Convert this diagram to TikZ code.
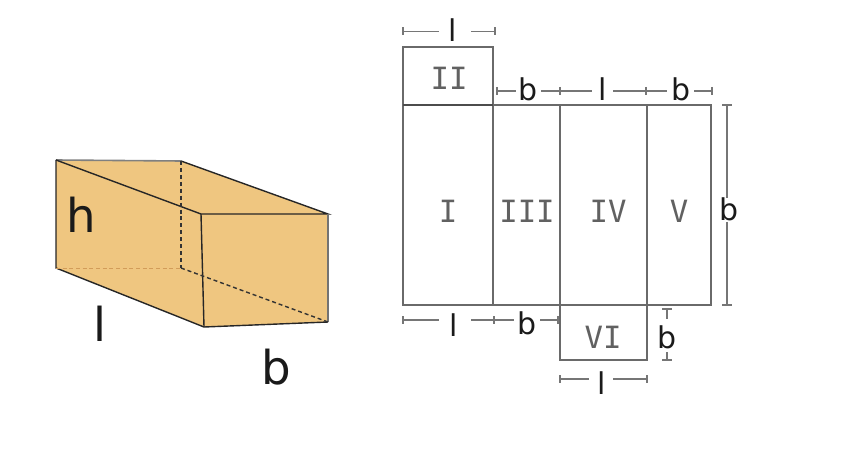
\documentclass[tikz,border=0pt]{standalone}
\usepackage{fontspec}
\setmainfont{DejaVu Sans}
\newfontfamily\facefont{DejaVu Sans Mono}
\definecolor{boxfill}{HTML}{EFC680}
\definecolor{netline}{HTML}{6A6A6A}
\definecolor{dimline}{HTML}{767676}
\definecolor{labelink}{HTML}{1A1A1A}
\tikzset{
  boxedge/.style={draw=black!85,line width=1.05pt},
  boxhidden/.style={draw=black!80,line width=1.05pt,dash pattern=on 3pt off 2.2pt},
  netedge/.style={draw=netline,line width=1.05pt},
  dimseg/.style={draw=dimline,line width=0.95pt},
  dimtick/.style={draw=dimline,line width=0.95pt},
  biglabel/.style={font=\fontsize{35}{35}\selectfont,text=labelink,inner sep=0pt},
  dimlabel/.style={font=\fontsize{22.5}{22.5}\selectfont,text=labelink,inner sep=0pt},
  facelabel/.style={font=\facefont\fontsize{23}{23}\selectfont,text=black!62,inner sep=0pt},
}
\newcommand{\vtick}[2]{\draw[dimtick] (#1,#2-4) -- (#1,#2+4);}
\newcommand{\htick}[2]{\draw[dimtick] (#1-5,#2) -- (#1+5,#2);}
\begin{document}
\begin{tikzpicture}[x=0.75pt,y=-0.75pt]
\useasboundingbox (0,0) rectangle (852,452);
% solid
\coordinate (LT) at (56,160);
\coordinate (BT) at (181,161);
\coordinate (FT) at (201,214);
\coordinate (RT) at (328,214);
\coordinate (FB) at (204,327);
\coordinate (RB) at (328,322);
\coordinate (LB) at (56,268);
\coordinate (BB) at (181,268);
\fill[boxfill] (LT) -- (BT) -- (RT) -- (RB) -- (FB) -- (LB) -- cycle;
\draw[draw=black!50,line width=1.2pt] (LT) -- (BT);
\draw[boxedge] (LT) -- (FT) -- (RT) -- (BT);
\draw[boxedge] (LT) -- (LB) -- (FB) -- (RB);
\draw[boxedge] (FT) -- (FB);
\draw[draw=black!55,line width=1.05pt] (RT) -- (RB);
\draw[boxhidden] (BT) -- (BB);
\draw[boxhidden] (BB) -- (RB);
\draw[draw=brown!60!boxfill,line width=0.7pt,dash pattern=on 3pt off 2pt] (LB) -- (BB);
\node[biglabel] (h) at (81,215) {h};
\node[biglabel] (lbox) at (100,324) {l};
\node[biglabel] (bbox) at (276,367) {b};
% net
\coordinate (n1) at (403,105);
\coordinate (n2) at (493,105);
\coordinate (n3) at (560,105);
\coordinate (n4) at (647,105);
\coordinate (n5) at (711,105);
\coordinate (s1) at (403,305);
\coordinate (s2) at (493,305);
\coordinate (s3) at (560,305);
\coordinate (s4) at (647,305);
\coordinate (s5) at (711,305);
\coordinate (t1) at (403,47);
\coordinate (t2) at (493,47);
\coordinate (u3) at (560,360);
\coordinate (u4) at (647,360);
\draw[netedge] (n1) rectangle (s5);
\draw[netedge] (n2) -- (s2) (n3) -- (s3) (n4) -- (s4);
\draw[netedge] (n1) -- (t1) -- (t2) -- (n2);
\draw[netedge] (s3) -- (u3) -- (u4) -- (s4);
\draw[draw=black!70,line width=1.2pt] (n1) -- (n2);
\node[facelabel] (fI) at (448,211) {I};
\node[facelabel] (fII) at (449,78) {II};
\node[facelabel] (fIII) at (527,211) {III};
\node[facelabel] (fIV) at (608,211) {IV};
\node[facelabel] (fV) at (679,211) {V};
\node[facelabel] (fVI) at (603,337) {VI};
% dims
\draw[dimseg] (403,31.5) -- (439,31.5) (471,31.5) -- (495,31.5);
\vtick{403}{31.5}\vtick{495}{31.5}
\node[dimlabel] (d1) at (453,30) {l};
\draw[dimseg] (497,91) -- (516,91) (541,91) -- (592,91) (613,91) -- (667,91) (694,91) -- (712,91);
\vtick{497}{91}\vtick{560}{91}\vtick{646}{91}\vtick{712}{91}
\node[dimlabel] (d2) at (528,89) {b};
\node[dimlabel] (d3) at (603,89) {l};
\node[dimlabel] (d4) at (681,89) {b};
\draw[dimseg] (727,105) -- (727,198) (727,222) -- (727,305);
\htick{727}{105}\htick{727}{305}
\node[dimlabel] (d5) at (729,209) {b};
\draw[dimseg] (403,320) -- (439,320) (471,320) -- (514,320) (540,320) -- (558,320);
\vtick{403}{320}\vtick{494}{320}\vtick{558}{320}
\node[dimlabel] (d6) at (454,325) {l};
\node[dimlabel] (d7) at (527,323) {b};
\draw[dimseg] (667,309) -- (667,319) (667,352) -- (667,360);
\htick{667}{309}\htick{667}{360}
\node[dimlabel] (d8) at (667,337) {b};
\draw[dimseg] (560,379) -- (589,379) (613,379) -- (647,379);
\vtick{560}{379}\vtick{647}{379}
\node[dimlabel] (d9) at (602,383) {l};
\end{tikzpicture}
\end{document}
